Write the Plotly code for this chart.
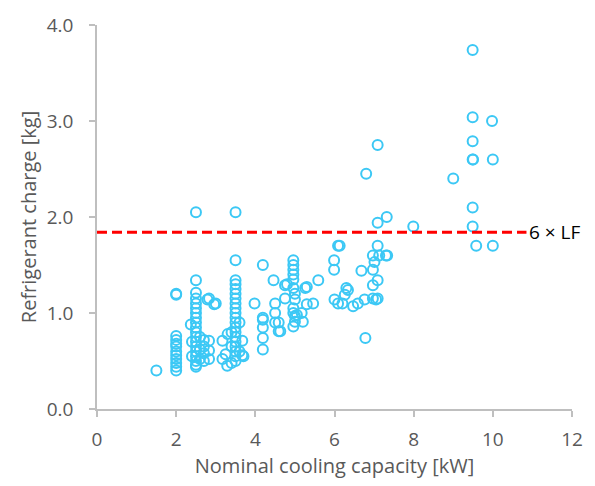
import plotly.graph_objects as go

# Nominal cooling capacity [kW]
capacity = [
    1.5,
    2.0, 2.0, 2.0, 2.0, 2.0, 2.0, 2.0, 2.0, 2.0, 2.0, 2.0, 2.0,
    2.5, 2.5, 2.5, 2.5, 2.5, 2.5, 2.5, 2.5, 2.5, 2.5, 2.5, 2.5, 2.5, 2.5, 2.5, 2.5, 2.5, 2.5, 2.5,
    2.37, 2.4, 2.4, 2.6, 2.6, 2.6, 2.7, 2.7, 2.7, 2.7, 2.79, 2.83, 2.83, 2.83, 2.83, 2.96, 3.0,
    3.17, 3.17, 3.25, 3.29, 3.3, 3.4, 3.4, 3.4,
    3.5, 3.5, 3.5, 3.5, 3.5, 3.5, 3.5, 3.5, 3.5, 3.5, 3.5, 3.5, 3.5, 3.5, 3.5, 3.5, 3.5, 3.5, 3.5, 3.5,
    3.6, 3.6, 3.67, 3.67, 3.7,
    3.98, 4.19, 4.19, 4.19, 4.19, 4.19, 4.19,
    4.46, 4.5, 4.5, 4.5, 4.59, 4.59, 4.63, 4.75, 4.75, 4.8,
    4.96, 4.96, 4.96, 4.96, 4.96, 4.96, 4.96, 4.96, 4.96, 5.0, 5.0, 5.0, 5.0, 5.05,
    5.17, 5.2, 5.26, 5.3, 5.3, 5.46, 5.59,
    5.99, 5.99, 6.0, 6.09, 6.09, 6.13, 6.2, 6.26, 6.3, 6.34, 6.47, 6.59,
    6.68, 6.76, 6.78, 6.8,
    6.97, 6.97, 6.97, 6.97, 7.01, 7.05, 7.09, 7.09, 7.09, 7.09, 7.09, 7.13, 7.3, 7.32, 7.33,
    7.99,
    9.0, 9.49, 9.49, 9.49, 9.49, 9.5, 9.49, 9.49, 9.58,
    9.98, 10.0, 10.0,
]

# Refrigerant charge [kg]
charge = [
    0.40,
    1.20, 1.19, 0.76, 0.72, 0.68, 0.65, 0.60, 0.56, 0.52, 0.48, 0.44, 0.40,
    2.05, 1.34, 1.21, 1.15, 1.10, 1.05, 1.00, 0.95, 0.90, 0.85, 0.80, 0.75, 0.70, 0.65, 0.60, 0.55, 0.50, 0.46, 0.44,
    0.88, 0.70, 0.55, 0.75, 0.62, 0.52, 0.72, 0.65, 0.58, 0.50, 1.14, 1.15, 0.71, 0.61, 0.52, 1.09, 1.10,
    0.71, 0.52, 0.57, 0.45, 0.78, 0.80, 0.65, 0.48,
    2.05, 1.55, 1.34, 1.30, 1.25, 1.20, 1.15, 1.10, 1.05, 1.00, 0.95, 0.90, 0.85, 0.80, 0.75, 0.70, 0.65, 0.60, 0.55, 0.50,
    0.90, 0.60, 0.71, 0.56, 0.55,
    1.10, 1.50, 0.93, 0.85, 0.74, 0.62, 0.95,
    1.34, 1.10, 1.00, 0.90, 0.90, 0.81, 0.81, 1.29, 1.15, 1.30,
    1.55, 1.50, 1.45, 1.40, 1.35, 1.26, 1.05, 1.00, 0.86, 1.20, 1.14, 0.91, 0.97, 0.98,
    1.00, 0.91, 1.26, 1.27, 1.09, 1.10, 1.34,
    1.55, 1.45, 1.14, 1.70, 1.10, 1.70, 1.10, 1.19, 1.26, 1.24, 1.07, 1.10,
    1.44, 1.14, 0.74, 2.45,
    1.60, 1.45, 1.29, 1.15, 1.53, 1.14, 2.75, 1.94, 1.70, 1.34, 1.15, 1.60, 1.60, 2.00, 1.60,
    1.90,
    2.40, 3.74, 3.04, 2.79, 2.60, 2.60, 2.10, 1.90, 1.70,
    3.00, 2.60, 1.70,
]

threshold = 1.84
threshold_label = "6 × LF"
line_end_x = 10.85

marker_color = "#3CC8F5"
axis_color = "#BFBFBF"
text_color = "#595959"
font_family = "'Open Sans', Lato, sans-serif"

fig = go.Figure()
fig.add_trace(go.Scatter(
    x=capacity, y=charge, mode="markers",
    marker=dict(symbol="circle-open", size=10, color=marker_color,
                line=dict(width=2, color=marker_color)),
    showlegend=False, hoverinfo="x+y",
))

fig.add_shape(type="line", xref="x", yref="y", x0=0, x1=line_end_x,
              y0=threshold, y1=threshold,
              line=dict(color="#FF0000", width=3, dash="10px,5px"))
fig.add_annotation(x=line_end_x, y=threshold, xref="x", yref="y",
                   text=threshold_label, showarrow=False, xanchor="left",
                   xshift=1, font=dict(family=font_family, size=19, color="#000000"))

fig.update_layout(
    width=595, height=486,
    margin=dict(l=97, r=19, t=20, b=77),
    plot_bgcolor="white", paper_bgcolor="white",
    font=dict(family=font_family, color=text_color, size=19),
)
fig.update_xaxes(
    range=[0, 12], dtick=2, tick0=0,
    showgrid=False, zeroline=False,
    showline=True, linecolor=axis_color, linewidth=1.5,
    ticks="outside", ticklen=6, tickcolor=axis_color, tickwidth=1.5,
    tickfont=dict(size=19, color=text_color), ticklabelstandoff=6,
    title=dict(text="Nominal cooling capacity [kW]", font=dict(size=20, color=text_color), standoff=1),
)
fig.update_yaxes(
    range=[0, 4], dtick=1, tick0=0, tickformat=".1f",
    showgrid=False, zeroline=False,
    showline=True, linecolor=axis_color, linewidth=1.5,
    ticks="outside", ticklen=6, tickcolor=axis_color, tickwidth=1.5,
    tickfont=dict(size=19, color=text_color), ticklabelstandoff=12,
    title=dict(text="Refrigerant charge [kg]", font=dict(size=20, color=text_color), standoff=5),
)

fig.write_html("out.html")
